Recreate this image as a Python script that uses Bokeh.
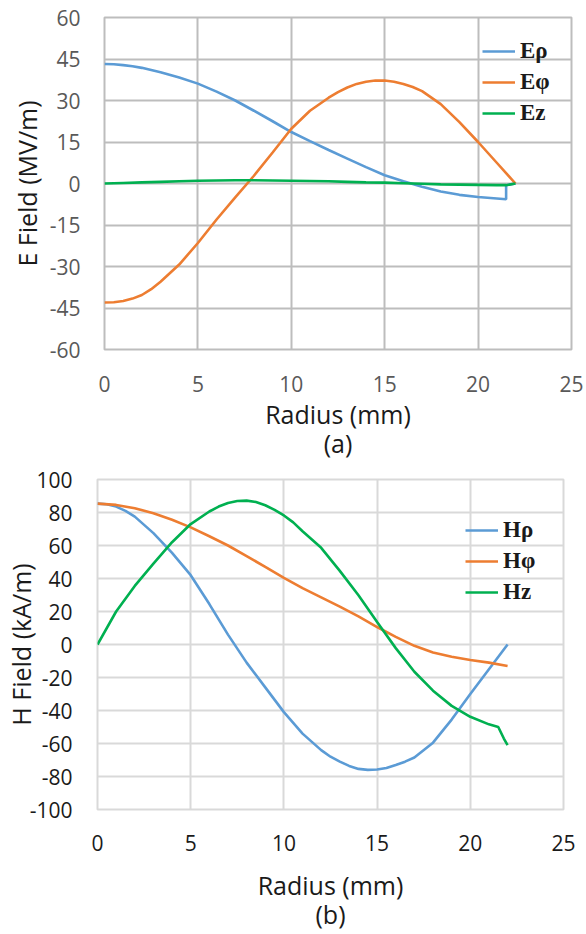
from bokeh.plotting import figure
from bokeh.models import Legend, LegendItem, FixedTicker, Range1d
from bokeh.embed import file_html
from bokeh.resources import INLINE

# ---------------- data (a) ----------------
r_erho = [0, 0.5, 1, 1.5, 2, 3, 4, 5, 6, 7, 8, 9, 10, 11, 12, 13, 14, 15, 16, 17, 18, 19, 20,
          21, 21.5, 21.5, 22]
E_rho = [43.2, 43.1, 42.8, 42.4, 41.8, 40.2, 38.3, 36.1, 33.2, 30.0, 26.3, 22.5, 18.6, 15.3,
         12.1, 9.0, 5.9, 3.0, 0.8, -1.2, -2.9, -4.1, -4.9, -5.4, -5.7, -0.6, 0.0]
r_ephi = [0, 0.5, 1, 1.5, 2, 2.5, 3, 4, 5, 6, 7, 8, 9, 10, 11, 12, 12.5, 13, 13.5, 14, 14.5,
          15, 15.5, 16, 16.5, 17, 18, 19, 20, 21, 22]
E_phi = [-43.0, -42.9, -42.5, -41.6, -40.3, -38.2, -35.5, -29.3, -21.5, -13.0, -5.0, 2.8,
         11.2, 19.8, 26.3, 31.0, 33.0, 34.7, 36.0, 36.8, 37.2, 37.2, 36.8, 36.0, 34.9, 33.4,
         28.7, 22.2, 15.0, 7.5, 0.0]
r_ez = [0, 1, 2, 3, 4, 5, 6, 7, 8, 9, 10, 11, 12, 13, 14, 15, 16, 17, 18, 19, 20, 21, 21.5, 22]
E_z = [0.0, 0.2, 0.4, 0.6, 0.8, 1.0, 1.1, 1.2, 1.2, 1.1, 1.0, 0.9, 0.8, 0.6, 0.4, 0.3, 0.1,
       -0.1, -0.3, -0.4, -0.5, -0.6, -0.6, 0.0]

# ---------------- data (b) ----------------
r_hrho = [0, 0.5, 1, 1.5, 2, 3, 4, 5, 6, 7, 8, 9, 10, 11, 12, 12.5, 13, 13.5, 14, 14.5, 15,
          15.5, 16, 16.5, 17, 18, 19, 20, 21, 22]
H_rho = [85.4, 85.0, 83.6, 81.0, 77.5, 67.5, 55.5, 42.0, 24.5, 6.0, -11.0, -26.0, -41.0,
         -54.0, -64.0, -68.0, -71.0, -73.6, -75.4, -76.0, -75.8, -74.8, -73.0, -71.0, -68.5,
         -59.5, -45.5, -30.0, -15.0, 0.0]
r_hphi = [0, 1, 2, 3, 4, 5, 6, 7, 8, 9, 10, 11, 12, 13, 14, 15, 16, 17, 18, 19, 20, 21, 22]
H_phi = [85.4, 84.6, 82.6, 79.6, 75.6, 71.0, 65.6, 60.0, 53.6, 47.0, 40.4, 34.2, 28.6, 23.0,
         17.0, 10.6, 4.6, -0.8, -4.8, -7.4, -9.4, -11.0, -13.0]
r_hz = [0, 1, 2, 3, 4, 5, 6, 6.5, 7, 7.5, 8, 8.5, 9, 9.5, 10, 10.5, 11, 12, 13, 14, 15, 16,
        17, 18, 19, 20, 21, 21.5, 21.8, 22]
H_z = [0.0, 20.0, 35.5, 49.0, 62.0, 73.0, 80.6, 83.6, 85.8, 87.0, 87.2, 86.4, 84.4, 81.6,
       78.2, 74.0, 68.6, 58.6, 44.6, 29.8, 13.6, -2.2, -16.5, -28.0, -37.2, -43.8, -48.4,
       -50.0, -57.0, -61.0]

x_ticks = [0, 5, 10, 15, 20, 25]
e_ticks = [-60, -45, -30, -15, 0, 15, 30, 45, 60]
h_ticks = [-100, -80, -60, -40, -20, 0, 20, 40, 60, 80, 100]

BLUE = "#5b9bd5"
ORANGE = "#ed7d31"
GREEN = "#00b050"
FONT = "Open Sans"
TXT = "#1a1a1a"


def make_fig(height, top, left, right, ylo, yhi, yticks, ylabel, xlabel, grid_color,
             tick_color, ylbl_standoff, xlbl_standoff, ytitle_standoff, xtitle_standoff):
    p = figure(width=586, height=height, x_range=Range1d(0, 25), y_range=Range1d(ylo, yhi),
               output_backend="svg", toolbar_location=None,
               min_border_left=left, min_border_right=right, min_border_top=top,
               min_border_bottom=height - top - 332)
    p.outline_line_color = grid_color
    p.outline_line_width = 2
    for ax in (p.xaxis[0], p.yaxis[0]):
        ax.axis_line_color = None
        ax.major_tick_line_color = None
        ax.minor_tick_line_color = None
        ax.major_tick_out = 0
        ax.major_tick_in = 0
        ax.major_label_text_font = FONT
        ax.major_label_text_font_size = "21px"
        ax.major_label_text_color = tick_color
        ax.axis_label_text_font = FONT
        ax.axis_label_text_font_size = "25px"
        ax.axis_label_text_font_style = "normal"
        ax.axis_label_text_color = TXT
    p.xaxis.ticker = FixedTicker(ticks=x_ticks)
    p.yaxis.ticker = FixedTicker(ticks=yticks)
    p.xaxis.major_label_overrides = {t: str(t) for t in x_ticks}
    p.yaxis.major_label_overrides = {t: str(t) for t in yticks}
    p.xaxis.major_label_standoff = xlbl_standoff
    p.yaxis.major_label_standoff = ylbl_standoff
    p.xaxis.axis_label = xlabel
    p.xaxis.axis_label_text_line_height = 0.88
    p.xaxis.axis_label_standoff = xtitle_standoff
    p.yaxis.axis_label = ylabel
    p.yaxis.axis_label_standoff = ytitle_standoff
    for g in (p.xgrid[0], p.ygrid[0]):
        g.grid_line_color = grid_color
        g.grid_line_width = 2
    return p


def make_legend(labels, renderers, loc):
    return Legend(items=[LegendItem(label=l, renderers=[r]) for l, r in zip(labels, renderers)],
                  location=loc, background_fill_alpha=0, border_line_color=None,
                  padding=0, margin=0, spacing=5, glyph_width=33, glyph_height=24,
                  label_height=24, label_standoff=5,
                  label_text_font="Liberation Serif", label_text_font_style="bold",
                  label_text_font_size="23px", label_text_color=TXT)


# ---------- (a) ----------
pa = make_fig(465, 17, 104, 15, -60, 60, e_ticks, "E Field (MV/m)", "Radius (mm)\n(a)",
              "#bdbdbd", "#595959", 24, 26, 3, 2)
la = pa.line(r_erho, E_rho, line_color=BLUE, line_width=2.6)
lb = pa.line(r_ephi, E_phi, line_color=ORANGE, line_width=2.6)
lc = pa.line(r_ez, E_z, line_color=GREEN, line_width=2.6)
pa.add_layout(make_legend(["Eρ", "Eφ", "Ez"], [la, lb, lc], (378, 223)), "center")

# ---------- (b) ----------
pb = make_fig(469, 14, 97, 23, -100, 100, h_ticks, "H Field (kA/m)", "Radius (mm)\n(b)",
              "#d9d9d9", TXT, 25, 25, -11, 14)
ha = pb.line(r_hrho, H_rho, line_color=BLUE, line_width=2.6)
hb = pb.line(r_hphi, H_phi, line_color=ORANGE, line_width=2.6)
hc = pb.line(r_hz, H_z, line_color=GREEN, line_width=2.6)
pb.add_layout(make_legend(["Hρ", "Hφ", "Hz"], [ha, hb, hc], (368, 204)), "center")

open("out.html", "w").write(file_html([pa, pb], INLINE))
